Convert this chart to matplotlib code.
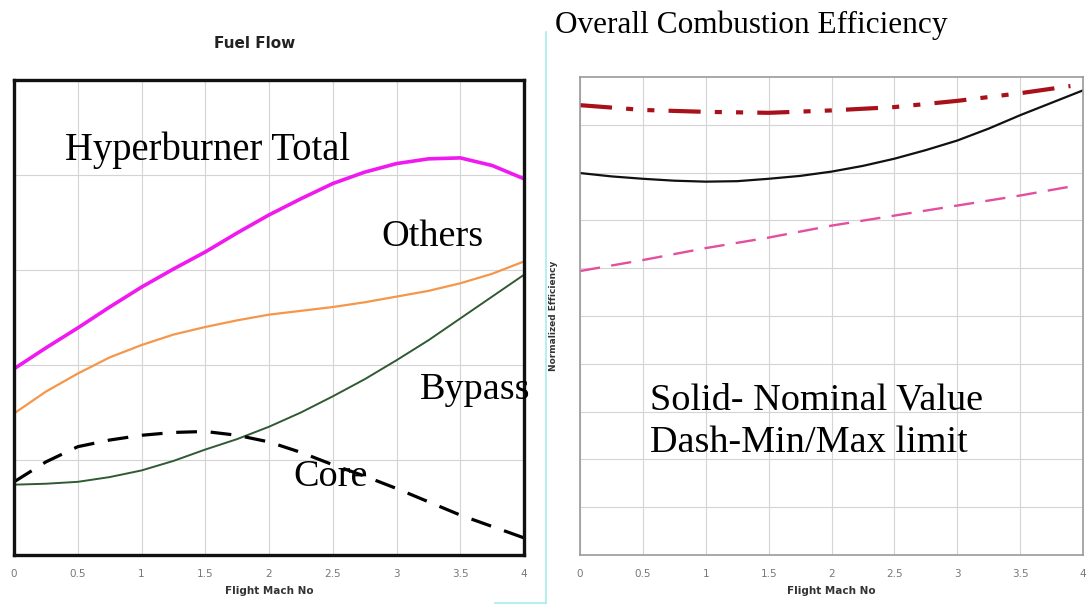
import matplotlib.pyplot as plt
from matplotlib.lines import Line2D

# data
mach = [0, 0.25, 0.5, 0.75, 1, 1.25, 1.5, 1.75, 2, 2.25, 2.5, 2.75, 3, 3.25, 3.5, 3.75, 4]
hyper_total = [1.96, 2.18, 2.39, 2.61, 2.82, 3.01, 3.19, 3.39, 3.58, 3.75, 3.91, 4.03, 4.12, 4.17, 4.18, 4.10, 3.96]
others = [1.49, 1.72, 1.91, 2.08, 2.21, 2.32, 2.40, 2.47, 2.53, 2.57, 2.61, 2.66, 2.72, 2.78, 2.86, 2.96, 3.09]
bypass = [0.74, 0.75, 0.77, 0.82, 0.89, 0.99, 1.11, 1.22, 1.35, 1.50, 1.67, 1.85, 2.05, 2.26, 2.49, 2.72, 2.95]
core = [0.77, 0.98, 1.14, 1.21, 1.26, 1.29, 1.30, 1.26, 1.19, 1.08, 0.95, 0.83, 0.70, 0.56, 0.42, 0.30, 0.18]

eff_nominal = [7.99, 7.92, 7.87, 7.83, 7.81, 7.82, 7.87, 7.93, 8.02, 8.14, 8.29, 8.47, 8.67, 8.92, 9.20, 9.46, 9.72]
mach_max = [0, 0.5, 1, 1.5, 2, 2.5, 3, 3.5, 3.9]
eff_max = [9.41, 9.31, 9.27, 9.25, 9.30, 9.37, 9.50, 9.66, 9.81]
mach_min = [0, 0.5, 1, 1.5, 2, 2.5, 3, 3.5, 3.95]
eff_min = [5.94, 6.17, 6.42, 6.64, 6.89, 7.10, 7.31, 7.52, 7.73]

xticks = [0, 0.5, 1, 1.5, 2, 2.5, 3, 3.5, 4]
xticklabels = ["0", "0.5", "1", "1.5", "2", "2.5", "3", "3.5", "4"]

serif = "Liberation Serif"
grid_col = "#d4d4d4"

fig = plt.figure(figsize=(10.89, 6.07), dpi=100)

# ---- left: fuel flow
ax1 = fig.add_axes([0.0129, 0.0857, 0.4683, 0.7825])
ax1.plot(mach, hyper_total, color="#f019f0", lw=2.6, solid_joinstyle="round")
ax1.plot(mach, others, color="#f5964a", lw=1.6, solid_joinstyle="round")
ax1.plot(mach, bypass, color="#2f5a32", lw=1.4, solid_joinstyle="round")
ax1.plot(mach, core, color="black", lw=2.3, linestyle=(0, (6.5, 4.3)))
ax1.set_xlim(0, 4)
ax1.set_ylim(0, 5)
ax1.set_yticks([1, 2, 3, 4])
ax1.set_yticklabels([])
for s in ax1.spines.values():
    s.set_linewidth(2.4)
    s.set_color("#111111")

ax1.text(0.40, 4.26, "Hyperburner Total", fontsize=27.8, family=serif, va="center")
ax1.text(2.88, 3.35, "Others", fontsize=27.5, family=serif, va="center")
ax1.text(3.18, 1.74, "Bypass", fontsize=27.5, family=serif, va="center")
ax1.text(2.19, 0.82, "Core", fontsize=27.5, family=serif, va="center")
fig.text(0.234, 0.929, "Fuel Flow", fontsize=11, fontweight="bold", color="#222222",
         ha="center", va="center")

# ---- right: combustion efficiency
ax2 = fig.add_axes([0.5326, 0.0857, 0.4619, 0.7875])
ax2.plot(mach, eff_nominal, color="#111111", lw=1.6, solid_joinstyle="round")
ax2.plot(mach_max, eff_max, color="#a8101a", lw=3.0,
         linestyle=(0, (7.7, 3.4, 1.7, 3.4, 1.7, 3.4)))
ax2.plot(mach_min, eff_min, color="#e44e9e", lw=1.7, linestyle=(0, (8.6, 4.8)))
ax2.set_xlim(0, 4)
ax2.set_ylim(0, 10)
ax2.set_yticks(range(1, 10))
ax2.set_yticklabels([])
for s in ax2.spines.values():
    s.set_linewidth(1.2)
    s.set_color("#9a9a9a")
ax2.set_ylabel("Normalized Efficiency", fontsize=6.5, fontweight="bold", color="#333333", labelpad=6)

ax2.text(0.557, 3.24, "Solid- Nominal Value", fontsize=27.5, family=serif, va="center")
ax2.text(0.557, 2.34, "Dash-Min/Max limit", fontsize=27.5, family=serif, va="center")
fig.text(0.5096, 0.959, "Overall Combustion Efficiency", fontsize=22.5, family=serif,
         ha="left", va="center")

for ax in (ax1, ax2):
    ax.set_xticks(xticks)
    ax.set_xticklabels(xticklabels)
    ax.tick_params(length=0, labelsize=7.5, labelcolor="#777777", pad=10)
    ax.grid(True, color=grid_col, lw=0.8)
    ax.set_axisbelow(True)
    ax.set_xlabel("Flight Mach No", fontsize=7.5, fontweight="bold", color="#333333", labelpad=5)

# light cyan border of the pasted right image
fig.add_artist(Line2D([546 / 1089, 546 / 1089], [1 - 32 / 607, 1 - 603 / 607],
                      transform=fig.transFigure, color="#a8ecec", lw=1.2))
fig.add_artist(Line2D([495 / 1089, 546 / 1089], [1 - 603 / 607, 1 - 603 / 607],
                      transform=fig.transFigure, color="#a8ecec", lw=1.2))

fig.savefig("out.png", dpi=100)
